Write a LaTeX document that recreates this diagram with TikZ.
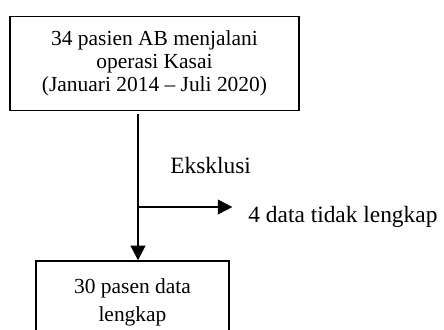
\documentclass[tikz,border=0pt]{standalone}
\usepackage{fontspec}
\setmainfont{Liberation Serif}
\usetikzlibrary{positioning, arrows.meta}

\begin{document}
\begin{tikzpicture}[
  x=0.513pt, y=-0.513pt,
  font=\fontsize{12}{14}\selectfont,
  flowbox/.style={draw, line width=0.9pt, align=center, inner sep=0pt},
  link/.style={-{Triangle[length=7.5pt, width=7.5pt]}, line width=1pt},
  node distance=76.4pt
]
\clip (0,0) rectangle (444,329);
\node[flowbox, minimum width=148.3pt, minimum height=48.2pt,
      font=\fontsize{11}{11.9}\selectfont] (pasien) at (154.5,63.5)
  {34 pasien AB menjalani\\ operasi Kasai\\ (Januari 2014 -- Juli 2020)};
\node[flowbox, minimum width=99pt, minimum height=42.1pt,
      font=\fontsize{11}{14.4}\selectfont,
      below=of pasien, xshift=-11.3pt] (lengkap)
  {30 pasen data\\ lengkap};
\coordinate (split) at (138,207);
\node[anchor=base west, inner sep=0pt] (eks) at (170,173) {Eksklusi};
\node[anchor=base west, inner sep=0pt] (tdk) at (248,222) {4 data tidak lengkap};
\draw[link, shorten <=1.5pt] (pasien.south -| split) -- (lengkap.north -| split);
\draw[link, shorten >=8pt] (split) -- (split -| tdk.west);
\end{tikzpicture}
\end{document}
